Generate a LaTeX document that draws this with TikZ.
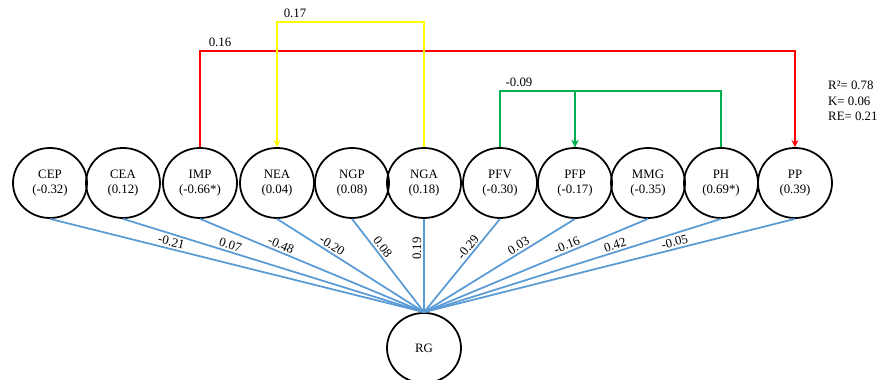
\documentclass[tikz,border=0pt]{standalone}
\usepackage{fontspec}
\setmainfont{Liberation Serif}
\usepackage{tikz}
\usetikzlibrary{shapes.geometric, arrows.meta}

\definecolor{lineblue}{RGB}{91,155,213}
\definecolor{pathgreen}{RGB}{0,176,80}
\definecolor{pathyellow}{RGB}{255,255,0}

\begin{document}
\begin{tikzpicture}[
  var/.style={draw, ellipse, line width=1pt, minimum width=1.48cm, minimum height=1.40cm, inner sep=0pt, align=center, font=\fontsize{7.3}{8.2}\selectfont},
  load/.style={draw=lineblue, line width=1pt},
  coef/.style={pos=0.35, sloped, above, inner sep=1pt, font=\fontsize{7.3}{8.2}\selectfont},
  link/.style={line width=1.2pt, -{Stealth[length=4pt,width=4pt]}},
  txt/.style={font=\fontsize{7.3}{9}\selectfont}
]
\useasboundingbox (0,0) rectangle (17.9,7.6);

% Predictors
\node[var] (cep) at (1.00,3.94) {CEP\\(-0.32)};
\node[var] (cea) at (2.46,3.94) {CEA\\(0.12)};
\node[var] (imp) at (4.00,3.94) {IMP\\(-0.66*)};
\node[var] (nea) at (5.54,3.94) {NEA\\(0.04)};
\node[var] (ngp) at (7.04,3.94) {NGP\\(0.08)};
\node[var] (nga) at (8.48,3.94) {NGA\\(0.18)};
\node[var] (pfv) at (10.00,3.94) {PFV\\(-0.30)};
\node[var] (pfp) at (11.50,3.94) {PFP\\(-0.17)};
\node[var] (mmg) at (12.96,3.94) {MMG\\(-0.35)};
\node[var] (ph) at (14.42,3.94) {PH\\(0.69*)};
\node[var] (pp) at (15.90,3.94) {PP\\(0.39)};

% Response
\node[var] (rg) at (8.48,0.64) {RG};

% Loadings
\draw[load] (cep.south) -- node[coef, pos=0.32] (lcep) {-0.21} (rg.north);
\draw[load] (cea.south) -- node[coef] (lcea) {0.07} (rg.north);
\draw[load] (imp.south) -- node[coef] (limp) {-0.48} (rg.north);
\draw[load] (nea.south) -- node[coef] (lnea) {-0.20} (rg.north);
\draw[load] (ngp.south) -- node[coef] (lngp) {0.08} (rg.north);
\draw[load] (rg.north) -- node[coef, pos=0.68] (lnga) {0.19} (nga.south);
\draw[load] (pfv.south) -- node[coef] (lpfv) {-0.29} (rg.north);
\draw[load] (pfp.south) -- node[coef] (lpfp) {0.03} (rg.north);
\draw[load] (mmg.south) -- node[coef] (lmmg) {-0.16} (rg.north);
\draw[load] (ph.south) -- node[coef] (lph) {0.42} (rg.north);
\draw[load] (pp.south) -- node[coef, pos=0.32] (lpp) {-0.05} (rg.north);

% Correlations
\draw[link, red] (imp.north) -- ++(0,1.92) -| (pp.north);
\node[txt] (r16) at (4.40,6.76) {0.16};
\draw[link, pathyellow] (nga.north) -- ++(0,2.50) -| (nea.north);
\node[txt] (r17) at (5.90,7.34) {0.17};
\draw[link, pathgreen] (pfv.north) -- ++(0,1.12) -| (pfp.north);
\draw[link, pathgreen] (ph.north) -- ++(0,1.12) -| (pfp.north);
\node[txt] (r09) at (10.38,5.96) {-0.09};

% Fit
\node[txt, anchor=west, align=left] (fit) at (16.44,5.58) {R²= 0.78\\K= 0.06\\RE= 0.21};

\end{tikzpicture}
\end{document}
